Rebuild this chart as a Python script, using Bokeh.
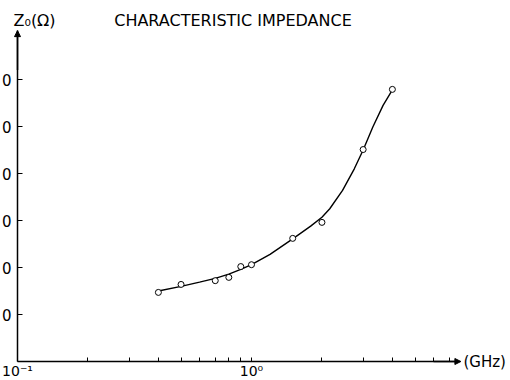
from bokeh.plotting import figure
from bokeh.models import FixedTicker, Label, Arrow, NormalHead
from bokeh.embed import file_html
from bokeh.resources import INLINE

# measured points (frequency GHz, Z0 ohm)
freq_meas = [0.4, 0.5, 0.7, 0.8, 0.9, 1.0, 1.5, 2.0, 3.0, 4.0]
z_meas = [14.7, 16.4, 17.2, 17.9, 20.2, 20.6, 26.2, 29.6, 45.1, 57.9]

# smooth fitted curve
freq_fit = [0.4, 0.5, 0.6, 0.7, 0.8, 0.9, 1.0, 1.2, 1.5, 1.79, 2.0, 2.16, 2.45, 2.75, 3.0, 3.3, 3.65, 4.0]
z_fit = [15.0, 16.0, 16.9, 17.7, 18.6, 19.6, 20.6, 22.8, 26.1, 28.8, 30.7, 32.5, 36.4, 41.0, 45.0, 49.9, 54.5, 57.8]

y_ticks = [10, 20, 30, 40, 50, 60]
y_tick_labels = ["0", "0", "0", "0", "0", "0"]
x_major = [0.1, 1]
x_major_labels = ["10⁻¹", "10⁰"]
x_minor = [0.2, 0.3, 0.4, 0.5, 0.6, 0.7, 0.8, 0.9, 2, 3, 4, 5, 6, 7]

FONT = "DejaVu Sans"

p = figure(width=510, height=380, x_axis_type="log",
           x_range=(0.08459, 12.79), y_range=(-4.04, 76.81),
           output_backend="svg", toolbar_location=None, min_border=0)
p.outline_line_color = None
p.xgrid.visible = False
p.ygrid.visible = False
p.background_fill_color = "white"
p.border_fill_color = "white"

# x axis (crossing at Z0 = 0)
xa = p.xaxis[0]
xa.fixed_location = 0
xa.bounds = (0.1, 7.52)
xa.ticker = FixedTicker(ticks=x_major, minor_ticks=x_minor)
xa.major_label_overrides = dict(zip(x_major, x_major_labels))
xa.major_tick_in = 4
xa.major_tick_out = 0
xa.minor_tick_in = 4
xa.minor_tick_out = 0
xa.axis_line_width = 1.5
xa.axis_line_color = "black"
xa.major_tick_line_color = "black"
xa.minor_tick_line_color = "black"
xa.major_label_text_font = FONT
xa.major_label_text_font_size = "14px"
xa.major_label_text_color = "black"
xa.major_label_standoff = 1

# y axis (crossing at 0.1 GHz)
ya = p.yaxis[0]
ya.fixed_location = 0.1
ya.bounds = (0, 70.4)
ya.ticker = FixedTicker(ticks=y_ticks, minor_ticks=[])
ya.major_label_overrides = dict(zip(y_ticks, y_tick_labels))
ya.major_tick_in = 5
ya.major_tick_out = 0
ya.minor_tick_in = 0
ya.minor_tick_out = 0
ya.axis_line_width = 1.5
ya.axis_line_color = "black"
ya.major_tick_line_color = "black"
ya.major_label_text_font = FONT
ya.major_label_text_font_size = "15px"
ya.major_label_text_color = "black"
ya.major_label_standoff = 6

# curve and points
p.line(freq_fit, z_fit, line_color="black", line_width=1.4)
p.scatter(freq_meas, z_meas, marker="circle", size=6, fill_color="white",
          line_color="black", line_width=1)

# axis arrows
p.add_layout(Arrow(end=NormalHead(size=6, fill_color="black", line_color="black"),
                   x_start=0.1, y_start=62, x_end=0.1, y_end=70.4, line_width=1.5))
p.add_layout(Arrow(end=NormalHead(size=6, fill_color="black", line_color="black"),
                   x_start=6.0, y_start=0, x_end=7.85, y_end=0, line_width=1.5))

# texts
p.add_layout(Label(x=0.1, y=72.6, x_offset=-4, text="Z₀(Ω)", text_font=FONT,
                   text_font_size="16px", text_baseline="middle", text_color="black"))
p.add_layout(Label(x=0.259, y=72.6, text="CHARACTERISTIC  IMPEDANCE", text_font=FONT,
                   text_font_size="16px", text_baseline="middle", text_color="black"))
p.add_layout(Label(x=8.05, y=0, text="(GHz)", text_font=FONT,
                   text_font_size="15px", text_baseline="middle", text_color="black"))

open("out.html", "w").write(file_html(p, INLINE))
